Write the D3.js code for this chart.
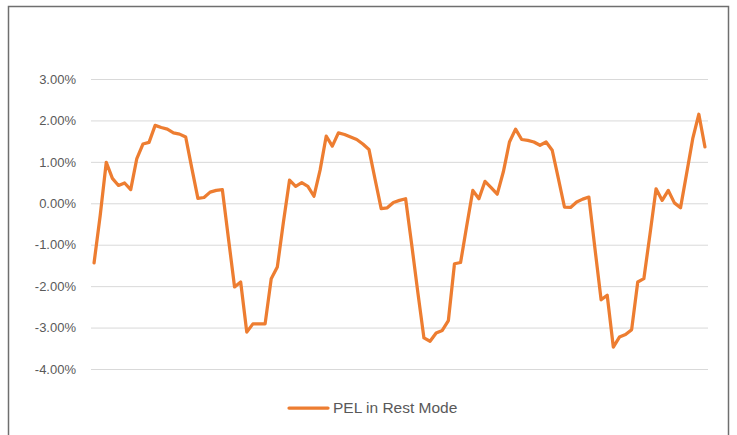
<!DOCTYPE html>
<html>
<head>
<meta charset="utf-8">
<script src="https://cdn.jsdelivr.net/npm/d3@7"></script>
<style>
  html, body { margin: 0; padding: 0; background: #fff; }
  .tick text { font-family: "Liberation Sans", Arial, sans-serif; font-size: 13px; fill: #595959; }
  .tick line { stroke: #d9d9d9; }
</style>
</head>
<body>
<div id="chart"></div>
<script>
// Data (percent values)
const seriesName = "PEL in Rest Mode"
const values = [
  -1.44, -0.30, 0.99, 0.60, 0.43, 0.49, 0.33, 1.08, 1.43, 1.47,
  1.88, 1.83, 1.79, 1.70, 1.67, 1.60, 0.85, 0.12, 0.14, 0.27,
  0.31, 0.33, -0.85, -2.02, -1.90, -3.11, -2.91, -2.91, -2.91, -1.82,
  -1.54, -0.45, 0.56, 0.41, 0.50, 0.41, 0.17, 0.80, 1.62, 1.38,
  1.70, 1.66, 1.60, 1.54, 1.43, 1.30, 0.58, -0.13, -0.11, 0.02,
  0.07, 0.11, -1.00, -2.15, -3.25, -3.33, -3.13, -3.07, -2.83, -1.46,
  -1.43, -0.55, 0.31, 0.11, 0.53, 0.38, 0.22, 0.76, 1.48, 1.79,
  1.54, 1.52, 1.48, 1.40, 1.48, 1.28, 0.60, -0.09, -0.10, 0.03,
  0.10, 0.15, -1.10, -2.33, -2.22, -3.47, -3.23, -3.17, -3.05, -1.90,
  -1.82, -0.75, 0.35, 0.07, 0.31, 0.01, -0.11, 0.72, 1.56, 2.15,
  1.36
]
const categories = values.map((d, i) => i + 1)
const yTicks = [-4, -3, -2, -1, 0, 1, 2, 3]

const W = 737, H = 435
const plot = { left: 91, right: 708, top: 79, bottom: 369 }

const svg = d3.select("#chart").append("svg")
    .attr("width", W)
    .attr("height", H)

// chart frame
svg.append("rect")
    .attr("x", 8.5).attr("y", 6.5)
    .attr("width", 720).attr("height", 440)
    .attr("fill", "#fff")
    .attr("stroke", "#6f6f6f")
    .attr("stroke-width", 1.5)

const x = d3.scalePoint()
    .domain(categories)
    .range([plot.left, plot.right])
    .padding(0.5)

const y = d3.scaleLinear()
    .domain([-4, 3])
    .range([plot.bottom, plot.top])

// gridlines + labels
svg.append("g")
    .attr("transform", "translate(" + plot.left + ",0)")
    .call(d3.axisLeft(y)
      .tickValues(yTicks)
      .tickSize(-(plot.right - plot.left))
      .tickPadding(15)
      .tickFormat(d => d.toFixed(2) + "%"))
    .call(g => g.select(".domain").remove())

// the line
const line = d3.line()
    .x((d, i) => x(categories[i]))
    .y(d => y(d))

svg.append("path")
    .datum(values)
    .attr("fill", "none")
    .attr("stroke", "#ED7D31")
    .attr("stroke-width", 3.25)
    .attr("stroke-linejoin", "round")
    .attr("stroke-linecap", "round")
    .attr("d", line)

// legend
const legend = svg.append("g").attr("transform", "translate(289,408)")
legend.append("line")
    .attr("x1", 0).attr("x2", 39)
    .attr("stroke", "#ED7D31")
    .attr("stroke-width", 3.25)
    .attr("stroke-linecap", "round")
legend.append("text")
    .attr("x", 44)
    .attr("dy", "0.35em")
    .attr("font-family", "Liberation Sans, Arial, sans-serif")
    .attr("font-size", 15.5)
    .attr("fill", "#595959")
    .text(seriesName)
</script>
</body>
</html>
